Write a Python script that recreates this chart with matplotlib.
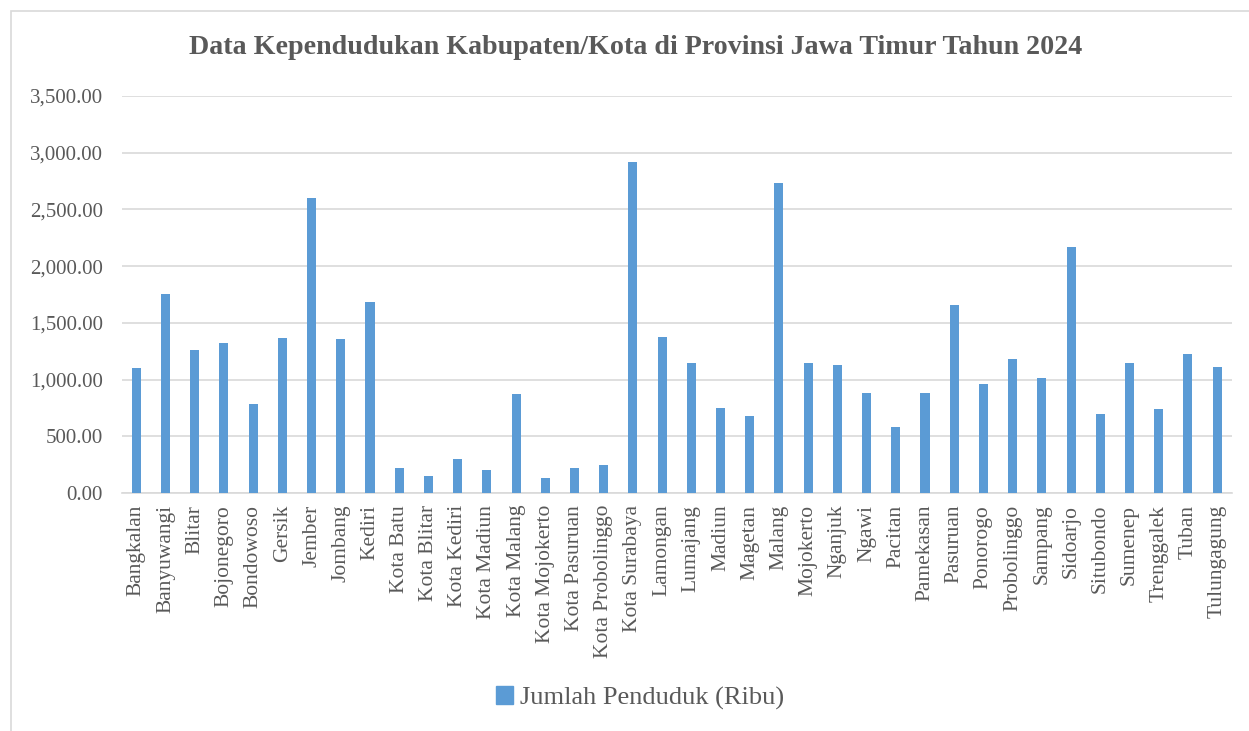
import matplotlib
matplotlib.use('Agg')
import matplotlib.pyplot as plt
from matplotlib.patches import Rectangle, Patch
from matplotlib.ticker import FuncFormatter

# --- Data (ribu jiwa) ---
wilayah = [
    "Bangkalan", "Banyuwangi", "Blitar", "Bojonegoro", "Bondowoso", "Gersik",
    "Jember", "Jombang", "Kediri", "Kota Batu", "Kota Blitar", "Kota Kediri",
    "Kota Madiun", "Kota Malang", "Kota Mojokerto", "Kota Pasuruan",
    "Kota Probolinggo", "Kota Surabaya", "Lamongan", "Lumajang", "Madiun",
    "Magetan", "Malang", "Mojokerto", "Nganjuk", "Ngawi", "Pacitan",
    "Pamekasan", "Pasuruan", "Ponorogo", "Probolinggo", "Sampang", "Sidoarjo",
    "Situbondo", "Sumenep", "Trenggalek", "Tuban", "Tulungagung",
]
penduduk = [
    1099, 1752, 1261, 1322, 787, 1364,
    2598, 1358, 1684, 218, 150, 297,
    200, 873, 132, 218,
    247, 2921, 1375, 1143, 752,
    679, 2733, 1149, 1126, 882, 582,
    882, 1655, 961, 1181, 1014, 2169,
    696, 1149, 740, 1223, 1111,
]
yticks = [0, 500, 1000, 1500, 2000, 2500, 3000, 3500]

BAR = '#5B9BD5'
GRID = '#D9D9D9'
TXT = '#595959'
plt.rcParams['font.family'] = ['Liberation Serif', 'DejaVu Serif']

fig = plt.figure(figsize=(12.49, 7.31), dpi=100)
W, H = 1249, 731

# --- Chart area border ---
fig.patches.append(Rectangle((11 / W, -0.1), 1.2, 1 - 11 / H + 0.1,
                             transform=fig.transFigure, fill=False,
                             edgecolor=GRID, linewidth=1.2))

ax = fig.add_axes([121.7 / W, 1 - 493 / H, (1231.7 - 121.7) / W, (493 - 96) / H])
x = range(len(wilayah))
ax.bar(x, penduduk, width=0.31, color=BAR, zorder=3)

ax.set_xlim(-0.5, len(wilayah) - 0.5)
ax.set_ylim(0, 3500)
ax.set_yticks(yticks)
ax.yaxis.set_major_formatter(FuncFormatter(lambda v, p: f"{v:,.2f}"))
ax.set_xticks(list(x))
ax.set_xticklabels(wilayah, rotation=90)
ax.tick_params(axis='y', length=0, pad=13.5, labelsize=15, labelcolor=TXT)
ax.tick_params(axis='x', length=0, pad=8.5, labelsize=15.5, labelcolor=TXT)
ax.grid(axis='y', color=GRID, linewidth=1.2, zorder=0)
for s in ['top', 'right', 'left']:
    ax.spines[s].set_visible(False)
ax.spines['bottom'].set_color(GRID)
ax.spines['bottom'].set_linewidth(1.2)

fig.text(636 / W, 1 - 47 / H, "Data Kependudukan Kabupaten/Kota di Provinsi Jawa Timur Tahun 2024",
         ha='center', va='center', fontsize=20.2, fontweight='bold', color=TXT)

fig.legend(handles=[Patch(color=BAR, label="Jumlah Penduduk (Ribu)")],
           loc='center', bbox_to_anchor=(640 / W, 1 - 698 / H), frameon=False,
           fontsize=19, labelcolor=TXT, handlelength=0.65, handleheight=0.65,
           handletextpad=0.25)

plt.savefig('out.png', dpi=100)
plt.close(fig)
